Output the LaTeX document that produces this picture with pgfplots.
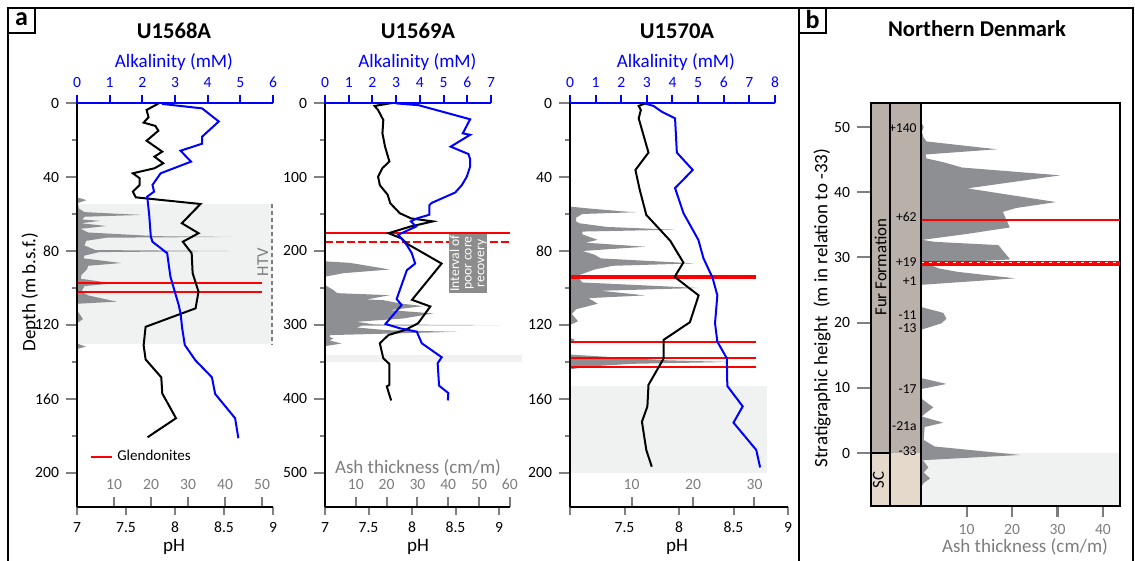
\documentclass[border=0pt]{standalone}
\usepackage{fontspec}
\setmainfont{Carlito}
\usepackage{pgfplots}
\pgfplotsset{compat=1.18}
\definecolor{ashgrey}{RGB}{142,143,147}
\definecolor{bggrey}{RGB}{240,241,241}
\definecolor{labgrey}{RGB}{125,125,125}
\definecolor{colbrown}{RGB}{185,176,170}
\definecolor{colbeige}{RGB}{229,217,204}
\definecolor{boxgrey}{RGB}{140,140,140}
\newcommand\tickfont{\fontsize{7.8}{9}\selectfont}
\newcommand\labfont{\fontsize{9.5}{11}\selectfont}
\newcommand\titfont{\fontsize{11.3}{13}\selectfont\bfseries}
\newcommand\smallfont{\fontsize{6.8}{7.5}\selectfont}
\pgfplotsset{
 base/.style={scale only axis, clip=false, axis line style={line width=1pt},
   every tick/.append style={line width=1pt}, tick align=outside,
   major tick length=4pt, minor tick length=2.5pt,
   ticklabel style={font=\tickfont}, /pgf/number format/assume math mode=true},
 ashcont/.style={base, y dir=reverse, axis lines=none},
 ashtick/.style={base, y dir=reverse, axis y line=none, axis x line*=bottom,
   x axis line style={labgrey}, tick align=inside, major tick length=5pt,
   every tick/.append style={labgrey}, xticklabel style={labgrey, anchor=south, yshift=5pt}},
 depthax/.style={base, axis x line=none, axis y line*=left, y dir=reverse, major tick length=5.5pt},
 phax/.style={base, axis x line*=bottom, axis y line=none, y dir=reverse},
 alkax/.style={base, axis x line*=top, axis y line=none, y dir=reverse,
   x axis line style={blue}, every tick/.append style={blue}, xticklabel style={blue}},
}
\begin{document}
\begin{tikzpicture}[x=0.5pt,y=-0.5pt]
\useasboundingbox (0,0) rectangle (1135,561);
% frames
\draw[line width=0.75pt] (8,561) -- (8,8) -- (1133,8) -- (1133,561);
\draw[line width=0.75pt] (799,8) -- (799,561);
\draw[line width=0.75pt] (8,8) rectangle (35,33);
\node[font=\fontsize{13}{14}\selectfont\bfseries] at (21.5,19) {a};
\draw[line width=0.75pt] (799,8) rectangle (826,33);
\node[font=\fontsize{13}{14}\selectfont\bfseries] at (812.5,19) {b};

%================ PANEL 1: U1568A ================
\begin{axis}[ashcont, at={(38.5pt,-51.5pt)}, anchor=north west, width=98pt, height=202pt,
  xmin=0, xmax=52.97, ymin=0, ymax=218.4]
\fill[bggrey] (axis cs:0,54.6) rectangle (axis cs:52.97,130.3);
\addplot[fill=ashgrey, draw=none] coordinates {(0,51) (2.6,52.5) (0.3,54) (0.5,57) (2,59) (17.5,60.5) (2,61.5) (1.5,63) (6.2,63.7) (1,65) (8,66.5) (1,68) (3,70) (21.6,72.0) (42,72.4) (8,72.8) (2.5,74.5) (2,77) (5,79.5) (41,80.0) (6,80.6) (2,82.5) (1.8,84) (12,86.5) (3,88) (2.7,90) (1.2,93) (1,95) (9.8,97.5) (2,99) (1.2,102) (3,104) (10.7,107.4) (0.3,108.5) (0,112) (1.6,116.8) (0,119) (0,130) (2.4,131.7) (0,133)} -- cycle;
\draw[red, line width=1pt] (axis cs:0,97.3) -- (axis cs:50,97.3);
\draw[red, line width=1pt] (axis cs:0,102.2) -- (axis cs:50,102.2);
\draw[labgrey, line width=1pt, dash pattern=on 2pt off 1.5pt] (axis cs:52.7,54.6) -- (axis cs:52.7,130.3);
\node[labgrey, rotate=90, font=\fontsize{8.3}{9}\selectfont] at (axis cs:50.2,86) {HTV};
\pgfplotsinvokeforeach{10,20,30,40,50}{\draw[labgrey, line width=1pt] (axis cs:#1,218.4) -- ([yshift=5pt]axis cs:#1,218.4);}
\end{axis}
\begin{axis}[ashtick, at={(38.5pt,-51.5pt)}, anchor=north west, width=98pt, height=202pt,
  xmin=0, xmax=52.97, ymin=0, ymax=218.4, xtick={10,20,30,40,50}]
\end{axis}
\begin{axis}[depthax, at={(38.5pt,-51.5pt)}, anchor=north west, width=98pt, height=202pt,
  xmin=0, xmax=1, ymin=0, ymax=218.4, ytick={0,40,...,200}, minor ytick={20,60,...,180}]
\end{axis}
\begin{axis}[phax, at={(38.5pt,-51.5pt)}, anchor=north west, width=98pt, height=202pt,
  xmin=7, xmax=9, ymin=0, ymax=218.4, xtick={7,7.5,8,8.5,9},
  legend style={at={(axis description cs:0.035,0.124)}, anchor=west, draw=none, fill=none,
    font=\fontsize{7.5}{9}\selectfont},
  legend image code/.code={\draw[#1] (0pt,0pt) -- (10.5pt,0pt);}]
\addlegendimage{red, line width=1pt}
\addlegendentry{Glendonites}
\addplot[black, line width=1pt, forget plot] coordinates {(7.84,0) (7.71,3.8) (7.73,7.7) (7.68,10.6) (7.80,12.4) (7.83,15) (7.71,20.4) (7.87,26.3) (7.79,29) (7.88,32.6) (7.79,35.3) (7.57,38) (7.64,40.7) (7.64,44.3) (7.57,47.9) (7.60,51) (8.26,54.6) (8.07,65) (8.24,70.4) (8.08,75) (8.17,81.2) (8.18,92) (8.24,102) (8.21,111) (7.70,121) (7.68,131) (7.70,138.6) (7.86,148.3) (7.87,157) (8.01,170.4) (7.72,180.7)};
\end{axis}
\begin{axis}[alkax, at={(38.5pt,-51.5pt)}, anchor=north west, width=98pt, height=202pt,
  xmin=0, xmax=6, ymin=0, ymax=218.4, xtick={0,1,...,6}]
\addplot[blue, line width=1pt] coordinates {(2.6,0.5) (3.83,2.9) (4.34,10) (3.83,18.2) (3.83,22) (3.17,25.8) (3.49,31.7) (2.56,38) (2.31,44.3) (2.36,47.9) (2.15,50.6) (2.21,60.5) (2.26,72.3) (2.31,75) (2.76,81.2) (2.86,93.9) (3.11,109) (3.17,113.7) (3.22,121.8) (3.30,130.8) (3.62,139) (4.13,148.3) (4.23,157.3) (4.84,170.4) (4.94,181.2)};
\end{axis}
\node[font=\titfont] at (174,31) {U1568A};
\node[font=\labfont, blue] at (174,62) {Alkalinity (mM)};
\node[font=\labfont] at (174,547) {pH};
\node[font=\labfont, rotate=90] at (30,292) {Depth (m b.s.f.)};

%================ PANEL 2: U1569A ================
\begin{axis}[ashcont, at={(162.5pt,-51.5pt)}, anchor=north west, width=92.5pt, height=202pt,
  xmin=0, xmax=60.06, ymin=0, ymax=546]
\fill[bggrey] (axis cs:0,340.5) rectangle (axis cs:63.9,350);
\addplot[fill=ashgrey, draw=none] coordinates {(0,214) (8,216) (12.4,219) (21,225) (6,230) (0,234.7)} -- cycle;
\addplot[fill=ashgrey, draw=none] coordinates {(0,246) (2.7,252.7) (4,257) (21.1,259.7) (13.5,265.5) (18.9,266.4) (24.4,270.9) (31.9,274.5) (21.1,279.9) (35.2,284.4) (25.4,291.2) (10.3,295.7) (16,299.3) (56.8,300.2) (12,301) (10.3,303.4) (20,307) (42.8,309.2) (1.6,313.7) (1.5,316) (2.7,318.2) (1.5,321) (5.4,325) (0,328.6)} -- cycle;
\draw[red, line width=1pt] (axis cs:0,176) -- (axis cs:60,176);
\draw[red, line width=1pt, dash pattern=on 4pt off 1.5pt] (axis cs:0,188) -- (axis cs:60,188);
\fill[boxgrey] (axis cs:40.3,176.5) rectangle (axis cs:52.6,256.8);
\node[white, rotate=90, font=\smallfont, align=center, inner sep=0pt] at (axis cs:46.45,216.6) {Interval of\\[-1.2pt]poor core\\[-1.2pt]recovery};
\pgfplotsinvokeforeach{10,20,30,40,50,60}{\draw[labgrey, line width=1pt] (axis cs:#1,546) -- ([yshift=5pt]axis cs:#1,546);}
\end{axis}
\begin{axis}[ashtick, at={(162.5pt,-51.5pt)}, anchor=north west, width=92.5pt, height=202pt,
  xmin=0, xmax=60.06, ymin=0, ymax=546, xtick={10,20,...,60}]
\end{axis}
\begin{axis}[depthax, at={(162.5pt,-51.5pt)}, anchor=north west, width=92.5pt, height=202pt,
  xmin=0, xmax=1, ymin=0, ymax=546, ytick={0,100,...,500}, minor ytick={50,150,...,450}]
\end{axis}
\begin{axis}[phax, at={(162.5pt,-51.5pt)}, anchor=north west, width=92.5pt, height=202pt,
  xmin=7, xmax=9.126, ymin=0, ymax=546, xtick={7,7.5,8,8.5,9}]
\addplot[black, line width=1pt] coordinates {(7.77,0) (7.57,4) (7.61,9.5) (7.67,23) (7.66,41) (7.69,59) (7.74,79) (7.66,88) (7.61,99.5) (7.63,111) (7.72,124) (7.75,135.5) (7.86,149) (7.99,156) (8.24,160) (7.98,167) (7.73,176) (7.88,183) (7.94,190) (8.34,217) (8.0,266) (8.21,275) (8.07,297.7) (7.92,306.8) (7.73,313.5) (7.63,324.7) (7.67,345) (7.74,352.7) (7.74,381) (7.71,383) (7.76,402)};
\end{axis}
\begin{axis}[alkax, at={(162.5pt,-51.5pt)}, anchor=north west, width=83pt, height=202pt,
  xmin=0, xmax=7, ymin=0, ymax=546, xtick={0,1,...,7}]
\addplot[blue, line width=1pt] coordinates {(3.0,0.5) (3.95,3) (6.12,22) (5.81,41) (6.12,43) (5.30,59) (6.05,69) (6.12,76) (6.12,86) (5.98,99.5) (5.77,111) (5.49,121) (4.50,135) (4.40,138) (4.40,151) (3.87,156) (3.62,160) (3.84,167) (3.09,178) (3.45,192) (3.66,203) (3.80,217) (3.45,226) (3.02,265) (3.23,273) (2.55,298.6) (3.16,304.5) (3.87,309) (4.08,324.7) (4.92,343.6) (4.75,351.8) (4.81,382) (5.20,392) (5.18,402)};
\end{axis}
\node[font=\titfont] at (418,31) {U1569A};
\node[font=\labfont, blue] at (417.5,62) {Alkalinity (mM)};
\node[font=\labfont] at (418,547) {pH};
\node[font=\labfont, labgrey] at (418,468) {Ash thickness (cm/m)};

%================ PANEL 3: U1570A ================
\begin{axis}[ashcont, at={(285pt,-51.5pt)}, anchor=north west, width=109pt, height=202pt,
  xmin=0, xmax=35.45, ymin=0, ymax=218.4]
\fill[bggrey] (axis cs:0,153) rectangle (axis cs:32.0,200.2);
\addplot[fill=ashgrey, draw=none] coordinates {(0,56) (3,57) (9,58.7) (11,59) (2,60) (1,62) (1,64) (1.5,65) (6,67) (17,68.5) (2,69.5) (2,71) (4.5,74) (2.5,75.5) (12.2,77.7) (2,80) (4,82) (5,84) (20.3,86.7) (7,88) (4,90) (1.5,93) (1.5,95) (2,97) (21,100) (5,101.5) (12.2,104) (3,105.5) (4.5,108.5) (1,111.5) (0.3,114) (1.3,118) (0,120) (0,127) (0.8,128) (0,130) (0,136) (5,137) (15,139) (26,140) (10,141) (3,142.5) (0,144)} -- cycle;
\draw[red, line width=2pt] (axis cs:0,94) -- (axis cs:30.2,94);
\draw[red, line width=1pt] (axis cs:0,129) -- (axis cs:30.2,129);
\draw[red, line width=1pt] (axis cs:0,138) -- (axis cs:30.2,138);
\draw[red, line width=1pt] (axis cs:0,142.5) -- (axis cs:30.2,142.5);
\pgfplotsinvokeforeach{10,20,30}{\draw[labgrey, line width=1pt] (axis cs:#1,218.4) -- ([yshift=5pt]axis cs:#1,218.4);}
\end{axis}
\begin{axis}[ashtick, at={(285pt,-51.5pt)}, anchor=north west, width=109pt, height=202pt,
  xmin=0, xmax=35.45, ymin=0, ymax=218.4, xtick={10,20,30}]
\end{axis}
\begin{axis}[depthax, at={(285pt,-51.5pt)}, anchor=north west, width=109pt, height=202pt,
  xmin=0, xmax=1, ymin=0, ymax=218.4, ytick={0,40,...,200}, minor ytick={20,60,...,180}]
\end{axis}
\begin{axis}[phax, at={(285pt,-51.5pt)}, anchor=north west, width=109pt, height=202pt,
  xmin=7, xmax=9, ymin=0, ymax=218.4, xtick={7,7.5,8,8.5,9}, xticklabels={,7.5,8,8.5,9}]
\addplot[black, line width=1pt] coordinates {(7.70,0) (7.63,1.6) (7.65,3.8) (7.63,8.3) (7.72,26.8) (7.60,36.2) (7.64,47) (7.70,60.5) (7.92,74.5) (7.98,80.4) (8.04,86.2) (7.96,94) (8.18,104) (8.10,118.5) (7.86,128) (7.86,138) (7.72,152.4) (7.71,164) (7.66,172.3) (7.70,187.6) (7.75,196.6)};
\end{axis}
\begin{axis}[alkax, at={(285pt,-51.5pt)}, anchor=north west, width=102.5pt, height=202pt,
  xmin=0, xmax=8, ymin=0, ymax=218.4, xtick={0,1,...,8}]
\addplot[blue, line width=1pt] coordinates {(2.93,0.3) (3.26,1.6) (3.58,4.7) (4.10,8.3) (4.17,26.8) (4.79,36.2) (4.10,46) (4.43,59.6) (5.01,74) (5.21,84) (5.53,93.5) (5.57,94.8) (5.75,104) (5.66,119) (5.75,129) (6.12,138) (6.14,153) (6.74,164) (6.38,172.8) (7.27,187.6) (7.42,197)};
\end{axis}
\node[font=\titfont] at (677,31) {U1570A};
\node[font=\labfont, blue] at (676,62) {Alkalinity (mM)};
\node[font=\labfont] at (677,547) {pH};

%================ PANEL b: Northern Denmark ================
\begin{axis}[base, axis on top, at={(435.5pt,-51.5pt)}, anchor=north west, width=124.5pt, height=201.5pt,
  xmin=871, xmax=1120, ymin=-8.13, ymax=53.7, xtick=\empty, ytick={0,10,...,50},
  ytick pos=left, major tick length=7pt]
\fill[colbrown] (axis cs:871,0) rectangle (axis cs:921,53.7);
\fill[colbeige] (axis cs:871,-8.13) rectangle (axis cs:921,0);
\fill[bggrey] (axis cs:921,-8.13) rectangle (axis cs:1120,0);
\draw[line width=1pt] (axis cs:890,-8.13) -- (axis cs:890,53.7);
\draw[line width=1pt] (axis cs:871,0) -- (axis cs:890,0);
\node[rotate=90, font=\fontsize{8.4}{9}\selectfont] at (axis cs:880.5,28.5) {Fur Formation};
\node[rotate=90, font=\fontsize{8.4}{9}\selectfont] at (axis cs:878.5,-4.1) {SC};
\node[anchor=east, font=\smallfont, inner sep=1pt] at (axis cs:919,49.8) {+140};
\node[anchor=east, font=\smallfont, inner sep=1pt] at (axis cs:919,36.2) {+62};
\node[anchor=east, font=\smallfont, inner sep=1pt] at (axis cs:919,29.3) {+19};
\node[anchor=east, font=\smallfont, inner sep=1pt] at (axis cs:919,26.3) {+1};
\node[anchor=east, font=\smallfont, inner sep=1pt] at (axis cs:919,21.2) {-11};
\node[anchor=east, font=\smallfont, inner sep=1pt] at (axis cs:919,19.2) {-13};
\node[anchor=east, font=\smallfont, inner sep=1pt] at (axis cs:919,9.8) {-17};
\node[anchor=east, font=\smallfont, inner sep=1pt] at (axis cs:919,4.1) {-21a};
\node[anchor=east, font=\smallfont, inner sep=1pt] at (axis cs:919,0.3) {-33};
\end{axis}
\begin{axis}[base, axis lines=none, at={(460.5pt,-51.5pt)}, anchor=north west, width=99.5pt, height=201.5pt,
  xmin=0, xmax=43.74, ymin=-8.13, ymax=53.7]
\addplot[fill=ashgrey, draw=none] coordinates {(0,50.8) (0.6,50.0) (0.2,49.3) (0.5,48.5) (1.2,47.8) (16.7,46.6) (1,45.8) (1.2,45.2) (5,44.6) (9,43.8) (30.6,42.6) (10.2,40.6) (29.7,38.5) (21,37.6) (18,37.0) (19.5,34.6) (10,33.6) (0.3,32.7) (3,32.4) (17,31.9) (19.6,29.7) (1.5,29.0) (4,28.3) (8,27.8) (20.7,26.8) (0,25.8) (0,22.4) (4.9,21.5) (5.6,20.6) (4.5,19.9) (0,18.9) (0,11.5) (5.6,10.6) (0,9.8) (0,8.4) (2.7,7.0) (0.8,6.0) (0.2,5.6) (4.9,4.65) (0.8,4.0) (0.6,2.0) (3,1.0) (21.8,-0.3) (0.4,-1.1) (1.6,-2.2) (0.6,-3.0) (2,-3.9) (0.6,-4.6) (0,-5.2)} -- cycle;
\draw[red, line width=1pt] (axis cs:0,35.8) -- (axis cs:43.74,35.8);
\draw[red, line width=2.2pt] (axis cs:0,29.07) -- (axis cs:43.74,29.07);
\draw[white, line width=0.6pt, dash pattern=on 1.5pt off 2.5pt] (axis cs:0,29.25) -- (axis cs:43.74,29.25);
\draw[line width=1pt] (axis cs:0,-8.13) -- (axis cs:0,53.7);
\pgfplotsinvokeforeach{10,20,30,40}{\draw[labgrey, line width=1pt] (axis cs:#1,-8.13) -- ([yshift=-5.5pt]axis cs:#1,-8.13);}
\end{axis}
\begin{axis}[base, at={(460.5pt,-51.5pt)}, anchor=north west, width=99.5pt, height=201.5pt,
  xmin=0, xmax=43.74, ymin=-8.13, ymax=53.7, axis y line=none, axis x line*=bottom,
  x axis line style={labgrey}, xtick={10,20,30,40}, major tick length=5.5pt,
  every tick/.append style={labgrey}, xticklabel style={labgrey}]
\end{axis}
\draw[line width=1pt] (920.5,506) -- (1120.5,506);
\node[font=\titfont] at (977,29) {Northern Denmark};
\node[font=\labfont, rotate=90] at (822,308) {Stratigraphic height\ \ (m in relation to -33)};
\node[font=\labfont, labgrey] at (1025,547) {Ash thickness (cm/m)};
\end{tikzpicture}
\end{document}
